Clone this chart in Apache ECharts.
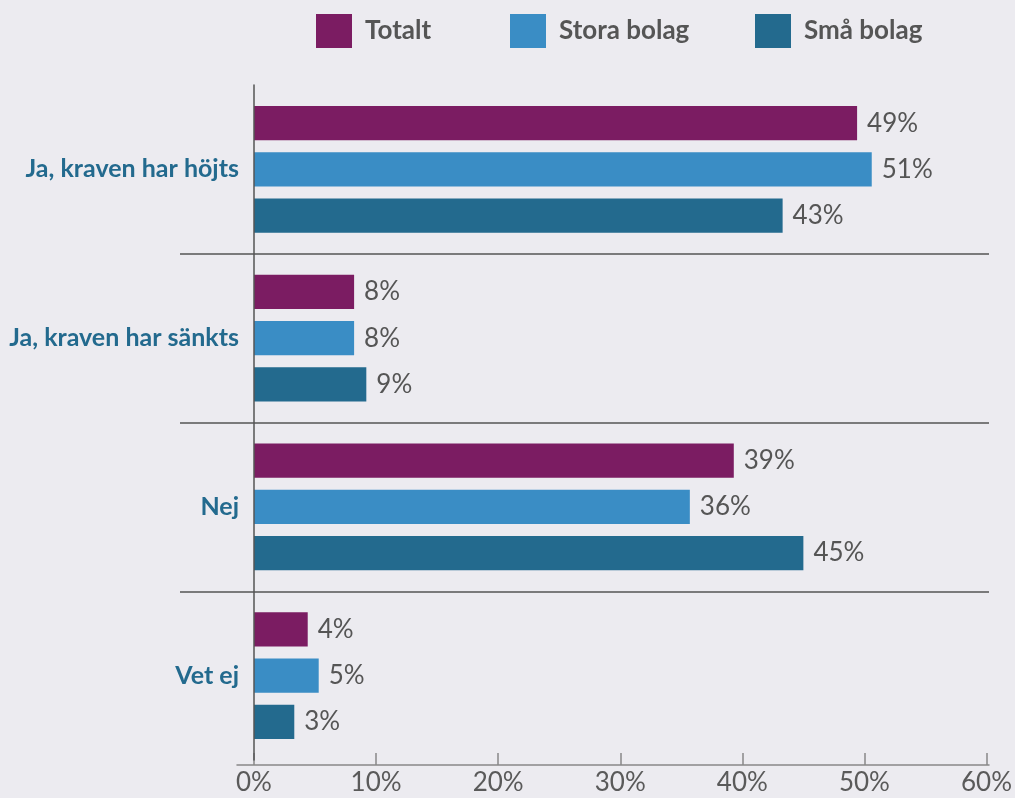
<!DOCTYPE html>
<html>
<head>
<meta charset="utf-8">
<script src="https://cdn.jsdelivr.net/npm/echarts@6/dist/echarts.min.js"></script>
<style>
html,body{margin:0;padding:0;background:#ECEBF0;}
#c{width:1015px;height:798px;}
</style>
</head>
<body>
<div id="c"></div>
<script>
const categories = ['Ja, kraven har höjts', 'Ja, kraven har sänkts', 'Nej', 'Vet ej'];
const seriesNames = ['Totalt', 'Stora bolag', 'Små bolag'];
const totalt = [49.4, 8.2, 39.3, 4.4];
const stora = [50.6, 8.2, 35.7, 5.3];
const sma = [43.3, 9.2, 45.0, 3.3];
const tickLabels = ['0%', '10%', '20%', '30%', '40%', '50%', '60%'];
const colors = ['#7B1C62', '#3A8DC5', '#236A8E'];
const legendLefts = [316, 510, 755];

const chart = echarts.init(document.getElementById('c'));
const font = 'Lato';
const valueLabel = {
  show: true, position: 'right', distance: 10,
  fontFamily: font, fontSize: 26, fontWeight: 'normal', color: '#555',
  formatter: p => Math.round(p.value) + '%'
};
const data = [totalt, stora, sma];
chart.setOption({
  backgroundColor: '#ECEBF0',
  animation: false,
  color: colors,
  legend: seriesNames.map((n, i) => ({
    top: 14, left: legendLefts[i], padding: 0,
    itemWidth: 36, itemHeight: 34,
    icon: 'rect',
    textStyle: { fontFamily: font, fontSize: 26, fontWeight: 'bold', color: '#555', padding: [0, 0, 0, 8] },
    data: [n]
  })),
  grid: [
    { left: 254, right: 26, top: 85, bottom: 38 },
    { left: 180, right: 26, top: 85, bottom: 38 },
    { left: 237, right: 26, top: 85, bottom: 38 }
  ],
  xAxis: [
    {
      gridIndex: 0, type: 'value', min: 0, max: 60, interval: 10, offset: 5,
      axisLine: { show: false },
      axisTick: { show: true, inside: true, length: 12, lineStyle: { color: '#888', width: 1.5 } },
      splitLine: { show: false },
      axisLabel: { fontFamily: font, fontSize: 26, fontWeight: 'normal', color: '#5a5a5a', margin: 5,
        formatter: v => tickLabels[Math.round(v / 10)] }
    },
    { gridIndex: 1, type: 'value', min: 0, max: 60, show: false },
    {
      gridIndex: 2, type: 'value', min: 0, max: 60, offset: 5,
      axisLine: { show: true, lineStyle: { color: '#888', width: 1.5 } },
      axisTick: { show: false }, axisLabel: { show: false }, splitLine: { show: false }
    }
  ],
  yAxis: [
    {
      gridIndex: 0, type: 'category', data: categories, inverse: true, z: 5,
      axisLine: { show: true, lineStyle: { color: '#555', width: 1.5 } },
      axisTick: { show: false },
      axisLabel: { fontFamily: font, fontSize: 25, fontWeight: 'bold', color: '#236A8E', margin: 15 }
    },
    {
      gridIndex: 1, type: 'category', data: categories, inverse: true,
      axisLine: { show: false }, axisTick: { show: false }, axisLabel: { show: false },
      splitLine: { show: true, lineStyle: { color: ['rgba(0,0,0,0)', '#555', '#555', '#555', 'rgba(0,0,0,0)'], width: 1.5 } }
    },
    {
      gridIndex: 2, type: 'category', data: categories, inverse: true, show: false
    }
  ],
  series: seriesNames.map((n, i) => ({
    name: n, type: 'bar', xAxisIndex: 0, yAxisIndex: 0,
    data: data[i],
    barGap: '35%', barCategoryGap: '25%',
    label: valueLabel,
    itemStyle: { color: colors[i] }
  }))
});
</script>
</body>
</html>
